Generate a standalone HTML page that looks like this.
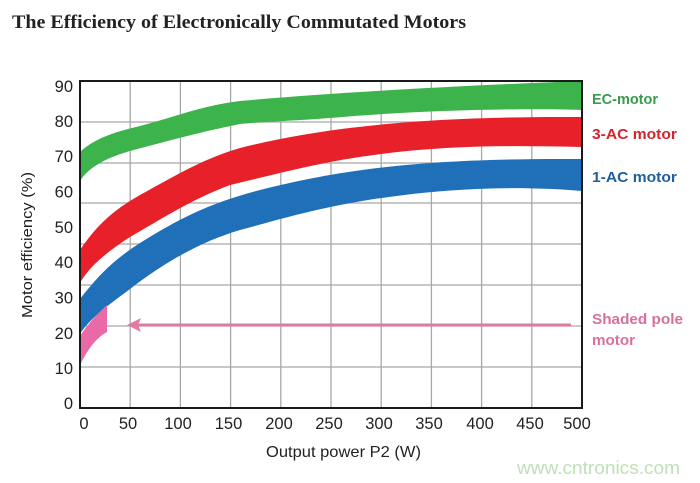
<!DOCTYPE html>
<html><head><meta charset="utf-8"><style>
html,body{margin:0;padding:0;background:#fff;}
svg{display:block;}
</style></head><body>
<svg width="700" height="483" viewBox="0 0 700 483" xmlns="http://www.w3.org/2000/svg">
<rect width="700" height="483" fill="#fff"/>
<text x="12" y="28" font-family="Liberation Serif, serif" font-weight="bold" font-size="19" fill="#222" textLength="454" lengthAdjust="spacingAndGlyphs">The Efficiency of Electronically Commutated Motors</text>

<!-- grid -->
<g stroke="#a8a8a8" stroke-width="1.3">
<line x1="80" y1="122" x2="582" y2="122"/>
<line x1="80" y1="163" x2="582" y2="163"/>
<line x1="80" y1="203" x2="582" y2="203"/>
<line x1="80" y1="244" x2="582" y2="244"/>
<line x1="80" y1="285" x2="582" y2="285"/>
<line x1="80" y1="326" x2="582" y2="326"/>
<line x1="80" y1="367" x2="582" y2="367"/>
<line x1="130.2" y1="81" x2="130.2" y2="408"/>
<line x1="180.4" y1="81" x2="180.4" y2="408"/>
<line x1="230.6" y1="81" x2="230.6" y2="408"/>
<line x1="280.8" y1="81" x2="280.8" y2="408"/>
<line x1="331" y1="81" x2="331" y2="408"/>
<line x1="381.2" y1="81" x2="381.2" y2="408"/>
<line x1="431.4" y1="81" x2="431.4" y2="408"/>
<line x1="481.6" y1="81" x2="481.6" y2="408"/>
<line x1="531.8" y1="81" x2="531.8" y2="408"/>
</g>

<!-- green EC band -->
<path fill="#3cb44b" d="M80,152 C95,138 115,132 140,126 C175,117 200,106 240,101 C330,93 450,86 582,81 L582,110 C520,108 420,110 330,118 C290,121 260,122 240,124 C200,132 160,143 130,151 C105,158 88,168 80,181 Z"/>
<!-- red 3-AC band -->
<path fill="#e8202a" d="M80,250 C95,228 110,212 140,195 C175,176 200,160 240,148 C320,128 420,116 582,117 L582,147 C500,145 420,145 330,162 C290,170 260,178 230,185 C190,200 160,220 130,237 C110,250 90,265 80,283 Z"/>
<!-- blue 1-AC band -->
<path fill="#1f70b8" d="M80,299 C95,280 110,262 140,243 C180,218 210,203 260,190 C340,170 420,158 582,159 L582,191 C520,186 440,186 340,205 C300,213 270,222 240,230 C200,242 165,262 130,289 C110,304 90,318 80,334 Z"/>
<!-- pink shaded pole -->
<path fill="#ea6aa8" d="M80,336 Q92,318 107,305 L107,332 Q92,340 80,365 Z"/>

<!-- arrow -->
<line x1="136" y1="325" x2="571" y2="325" stroke="#e07aa2" stroke-width="3"/>
<path d="M127,325 L141,318 L138,325 L141,332 Z" fill="#e07aa2"/>

<!-- axes box -->
<rect x="80" y="81" width="502" height="327" fill="none" stroke="#1a1a1a" stroke-width="2"/>

<!-- y ticks -->
<g font-family="Liberation Sans, sans-serif" font-size="16.5" fill="#222" text-anchor="end">
<text x="73" y="92">90</text>
<text x="73" y="127">80</text>
<text x="73" y="162">70</text>
<text x="73" y="197.5">60</text>
<text x="73" y="233">50</text>
<text x="73" y="268">40</text>
<text x="73" y="303.5">30</text>
<text x="73" y="339">20</text>
<text x="73" y="374">10</text>
<text x="73" y="409">0</text>
</g>
<!-- x ticks -->
<g font-family="Liberation Sans, sans-serif" font-size="16.5" fill="#222" text-anchor="middle">
<text x="84" y="429">0</text>
<text x="128" y="429">50</text>
<text x="178" y="429">100</text>
<text x="228.5" y="429">150</text>
<text x="279" y="429">200</text>
<text x="329" y="429">250</text>
<text x="379" y="429">300</text>
<text x="429" y="429">350</text>
<text x="480" y="429">400</text>
<text x="530" y="429">450</text>
<text x="577" y="429">500</text>
</g>

<text x="266" y="457" font-family="Liberation Sans, sans-serif" font-size="16" fill="#222" textLength="155" lengthAdjust="spacingAndGlyphs">Output power P2 (W)</text>
<text transform="translate(32,245) rotate(-90)" x="0" y="0" text-anchor="middle" font-family="Liberation Sans, sans-serif" font-size="15" fill="#222" textLength="146" lengthAdjust="spacingAndGlyphs">Motor efficiency (%)</text>

<!-- series labels -->
<g font-family="Liberation Sans, sans-serif" font-size="15" font-weight="bold">
<text x="592" y="104" fill="#3a9a4e" textLength="66" lengthAdjust="spacingAndGlyphs">EC-motor</text>
<text x="592" y="139" fill="#d4252d" textLength="85" lengthAdjust="spacingAndGlyphs">3-AC motor</text>
<text x="592" y="182" fill="#1f5f9c" textLength="85" lengthAdjust="spacingAndGlyphs">1-AC motor</text>
<text x="592" y="324" fill="#d9709c" textLength="91" lengthAdjust="spacingAndGlyphs">Shaded pole</text>
<text x="592" y="345" fill="#d9709c" textLength="43" lengthAdjust="spacingAndGlyphs">motor</text>
</g>

<text x="517" y="474" font-family="Liberation Sans, sans-serif" font-size="18" fill="#bfe0b8" textLength="163" lengthAdjust="spacingAndGlyphs">www.cntronics.com</text>
</svg>
</body></html>
